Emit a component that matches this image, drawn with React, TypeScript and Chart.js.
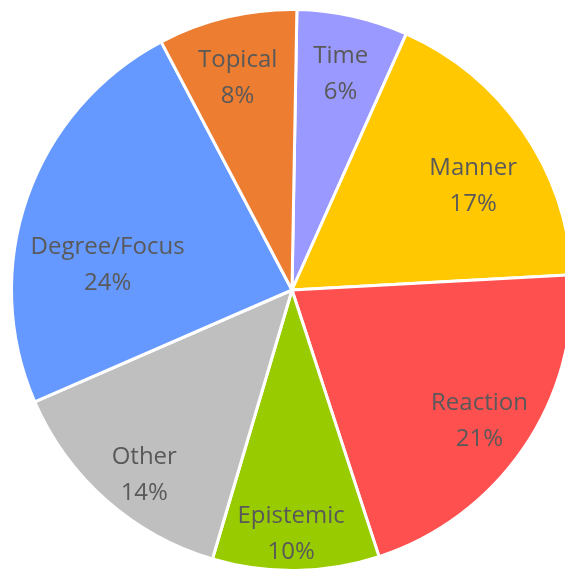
import React, { useEffect, useRef } from "react";
import { Chart, registerables } from "chart.js";

Chart.register(...registerables);

const categories = ["Time", "Manner", "Reaction", "Epistemic", "Other", "Degree/Focus", "Topical"];
const shares = [6.4, 17.45, 20.85, 9.6, 13.9, 23.8, 8.0];
const sliceColors = ["#9999FF", "#FFC800", "#FF5050", "#99CC00", "#BFBFBF", "#6699FF", "#ED7D31"];

// label placement style: [angle nudge in degrees, fraction of radius]
const labelPlacement = [
  [0, 0.8],
  [4, 0.75],
  [0, 0.81],
  [1, 0.86],
  [-2.4, 0.835],
  [-10.7, 0.665],
  [-0.8, 0.79],
];

const labelPlugin = {
  id: "sliceLabels",
  afterDatasetsDraw(chart: any) {
    const ctx = chart.ctx;
    const meta = chart.getDatasetMeta(0);
    const data = chart.data.datasets[0].data as number[];
    const total = data.reduce((a, b) => a + b, 0);
    ctx.save();
    ctx.fillStyle = "#595959";
    ctx.font = "24px 'Open Sans', sans-serif";
    ctx.textAlign = "center";
    ctx.textBaseline = "middle";
    meta.data.forEach((arc: any, i: number) => {
      const { x, y, startAngle, endAngle, outerRadius } = arc.getProps(
        ["x", "y", "startAngle", "endAngle", "outerRadius"],
        true
      );
      const [nudge, frac] = labelPlacement[i];
      const a = (startAngle + endAngle) / 2 + (nudge * Math.PI) / 180;
      const r = outerRadius * frac;
      const cx = x + Math.cos(a) * r;
      const cy = y + Math.sin(a) * r;
      const pct = Math.round((data[i] / total) * 100) + "%";
      ctx.fillText(chart.data.labels[i], cx, cy - 15);
      ctx.fillText(pct, cx, cy + 21);
    });
    ctx.restore();
  },
};

export default function App() {
  const ref = useRef<HTMLCanvasElement>(null);
  useEffect(() => {
    const chart = new Chart(ref.current!, {
      type: "pie",
      data: {
        labels: categories,
        datasets: [
          {
            data: shares,
            backgroundColor: sliceColors,
            borderColor: "#FFFFFF",
            borderWidth: 3,
          },
        ],
      },
      options: {
        responsive: false,
        animation: false,
        rotation: 1,
        layout: { padding: 0 },
        plugins: {
          legend: { display: false },
          tooltip: { enabled: false },
        },
      },
      plugins: [labelPlugin],
    });
    return () => chart.destroy();
  }, []);
  return (
    <div
      style={{
        position: "fixed",
        left: 0,
        top: 0,
        width: 565,
        height: 569,
        overflow: "hidden",
        background: "#FFFFFF",
      }}
    >
      <canvas
        ref={ref}
        width={568}
        height={564}
        style={{ position: "absolute", left: 8, top: 8, width: 568, height: 564 }}
      />
    </div>
  );
}
